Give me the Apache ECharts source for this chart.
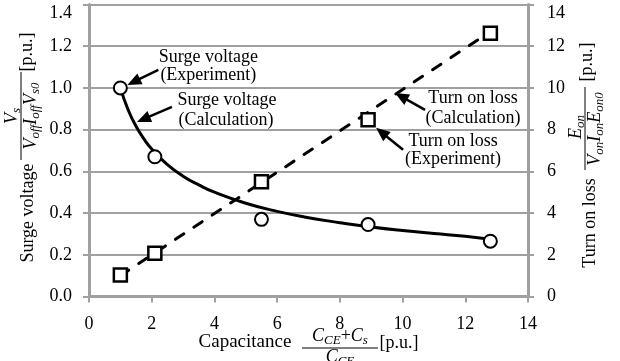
<!DOCTYPE html>
<html><head><meta charset="utf-8">
<script src="https://cdn.jsdelivr.net/npm/echarts@6/dist/echarts.min.js"></script>
<style>html,body{margin:0;padding:0;background:#fff}#c{width:620px;height:361px}</style>
</head><body><div id="c"></div>
<script>
// ---- data ----
const capacitance = [1.0, 2.1, 5.5, 8.9, 12.8];
const surgeExperiment = [1.0, 0.67, 0.37, 0.345, 0.265];
const lossExperiment = [1.03, 2.07, 5.5, 8.47, 12.62];
const surgeCalcX = [1, 1.25, 1.5, 1.75, 2, 2.5, 3, 3.5, 4, 5, 6, 7, 8, 9, 10, 11, 12, 12.8];
const surgeCalcY = [1.0, 0.894, 0.816, 0.756, 0.707, 0.632, 0.577, 0.535, 0.5, 0.447, 0.408, 0.378, 0.354, 0.333, 0.316, 0.302, 0.289, 0.274];
const lossCalcX = [1.0, 12.8];
const lossCalcY = [1.0, 12.7];
const xRange = [0, 14, 2];
const leftRange = [0, 1.4, 0.2];
const rightRange = [0, 14, 2];

const FF = '"Liberation Serif", "Times New Roman", serif';
const GRAY = '#a0a0a0';
const zip = (a, b) => a.map((v, i) => [v, b[i]]);

const chart = echarts.init(document.getElementById('c'), null, {renderer: 'canvas'});
chart.setOption({
  animation: false,
  backgroundColor: '#fff',
  grid: {left: 89, right: 92, top: 4.5, bottom: 64.5},
  xAxis: {
    type: 'value', min: xRange[0], max: xRange[1], interval: xRange[2],
    axisLine: {show: true, lineStyle: {color: GRAY, width: 3}},
    axisTick: {show: true, length: 6, lineStyle: {color: GRAY, width: 2}},
    splitLine: {show: false},
    axisLabel: {fontFamily: FF, fontSize: 18, color: '#000', margin: 19}
  },
  yAxis: [{
    type: 'value', position: 'left', min: leftRange[0], max: leftRange[1], interval: leftRange[2],
    axisLine: {show: true, lineStyle: {color: GRAY, width: 3}},
    axisTick: {show: true, length: 6, lineStyle: {color: GRAY, width: 2}},
    splitLine: {show: true, lineStyle: {color: GRAY, width: 2}},
    axisLabel: {fontFamily: FF, fontSize: 18, color: '#000', margin: 17,
      formatter: v => Math.abs(v - leftRange[1]) < 1e-9 ? '{t|' + v.toFixed(1) + '}' : v.toFixed(1),
      rich: {t: {fontFamily: FF, fontSize: 18, color: '#000', padding: [18, 0, 0, 0]}}}
  }, {
    type: 'value', position: 'right', min: rightRange[0], max: rightRange[1], interval: rightRange[2],
    axisLine: {show: true, lineStyle: {color: GRAY, width: 3}},
    axisTick: {show: true, length: 6, lineStyle: {color: GRAY, width: 2}},
    splitLine: {show: false},
    axisLabel: {fontFamily: FF, fontSize: 18, color: '#000', margin: 19,
      formatter: v => Math.abs(v - rightRange[1]) < 1e-9 ? '{t|' + v + '}' : String(v),
      rich: {t: {fontFamily: FF, fontSize: 18, color: '#000', padding: [18, 0, 0, 0]}}}
  }],
  series: [{
    name: 'Surge voltage (Calculation)', type: 'line', yAxisIndex: 0, smooth: true, showSymbol: false, z: 2,
    data: zip(surgeCalcX, surgeCalcY), lineStyle: {color: '#000', width: 3}
  }, {
    name: 'Turn on loss (Calculation)', type: 'line', yAxisIndex: 1, showSymbol: false, z: 2,
    data: zip(lossCalcX, lossCalcY), lineStyle: {color: '#000', width: 3, type: [10, 12], cap: 'round'}
  }, {
    name: 'Surge voltage (Experiment)', type: 'scatter', yAxisIndex: 0, symbol: 'circle', symbolSize: 13, z: 5,
    data: zip(capacitance, surgeExperiment), itemStyle: {color: '#fff', borderColor: '#000', borderWidth: 2, opacity: 1}
  }, {
    name: 'Turn on loss (Experiment)', type: 'scatter', yAxisIndex: 1, symbol: 'rect', symbolSize: 13, z: 5,
    data: zip(capacitance, lossExperiment), itemStyle: {color: '#fff', borderColor: '#000', borderWidth: 2.5, opacity: 1}
  }]
});

// ---- text helpers ----
const mctx = document.createElement('canvas').getContext('2d');
const fontStr = (fs, it) => (it ? 'italic ' : '') + fs + 'px ' + FF;
function tw(t, fs, it) { mctx.font = fontStr(fs, it); return mctx.measureText(t).width; }
// pieces: [text, fontSize, italic, dy]
function row(pieces, cx, cy) {
  const ws = pieces.map(p => tw(p[0], p[1], p[2]));
  const total = ws.reduce((a, b) => a + b, 0);
  let x = cx - total / 2;
  const els = [];
  pieces.forEach((p, i) => {
    els.push({type: 'text', x: x, y: cy + (p[3] || 0), z: 100,
      style: {text: p[0], font: fontStr(p[1], p[2]), fill: '#000', align: 'left', verticalAlign: 'middle'}});
    x += ws[i];
  });
  return els;
}
function bar(x1, x2, y) {
  return {type: 'line', z: 100, shape: {x1: x1, y1: y, x2: x2, y2: y}, style: {stroke: '#000', lineWidth: 1}};
}
function arrow(tail, tip) {
  const dx = tip[0] - tail[0], dy = tip[1] - tail[1];
  const L = Math.hypot(dx, dy), ux = dx / L, uy = dy / L, nx = -uy, ny = ux;
  const hl = 14, hw = 6;
  const bx = tip[0] - ux * hl, by = tip[1] - uy * hl;
  return [
    {type: 'line', z: 100, shape: {x1: tail[0], y1: tail[1], x2: bx + ux * 2, y2: by + uy * 2}, style: {stroke: '#000', lineWidth: 2.5}},
    {type: 'polygon', z: 100, shape: {points: [tip, [bx + nx * hw, by + ny * hw], [bx - nx * hw, by - ny * hw]]}, style: {fill: '#000'}}
  ];
}
const add = (a, b) => [a[0] + b[0], a[1] + b[1]];

function buildGraphics() {
  const P0 = v => chart.convertToPixel({seriesIndex: 0}, v);
  const P1 = v => chart.convertToPixel({seriesIndex: 1}, v);
  const els = [];
  const FS = 18, SUB = 13;

  // annotations
  const pe = P0([capacitance[0], surgeExperiment[0]]);
  els.push(...arrow(add(pe, [38, -18]), add(pe, [7, -3])));
  els.push(...row([['Surge voltage', FS, false]], pe[0] + 88, pe[1] - 31));
  els.push(...row([['(Experiment)', FS, false]], pe[0] + 88, pe[1] - 13));

  const pc = P0([1.53, 0.837]);
  els.push(...arrow(add(pc, [35, -15]), pc));
  els.push(...row([['Surge voltage', FS, false]], pc[0] + 90, pc[1] - 22));
  els.push(...row([['(Calculation)', FS, false]], pc[0] + 89, pc[1] - 2));

  const lc = P1([9.76, 9.76]);
  els.push(...arrow(add(lc, [30, 17]), lc));
  els.push(...row([['Turn on loss', FS, false]], lc[0] + 78, lc[1] + 5));
  els.push(...row([['(Calculation)', FS, false]], lc[0] + 78, lc[1] + 25));

  const le = P1([capacitance[3], lossExperiment[3]]);
  els.push(...arrow(add(le, [35, 30]), add(le, [8, 8])));
  els.push(...row([['Turn on loss', FS, false]], le[0] + 85, le[1] + 21));
  els.push(...row([['(Experiment)', FS, false]], le[0] + 85, le[1] + 39));

  // x axis title
  els.push(...row([['Capacitance', 19, false]], 245, 342));
  els.push(...row([['C', 18, true], ['CE', SUB, true, 5], ['+', 18, false], ['C', 18, true], ['s', SUB, true, 5]], 340, 336));
  els.push(bar(302, 378, 348));
  els.push(...row([['C', 18, true], ['CE', SUB, true, 5]], 340, 357));
  els.push(...row([['[p.u.]', 18, false]], 399, 343));

  // left axis title (rotated)
  const leftKids = [];
  leftKids.push(...row([['Surge voltage', FS, false]], 84, 0));
  leftKids.push(...row([['V', 18, true], ['s', SUB, true, 5]], 181, -16));
  leftKids.push(bar(137, 225, -7));
  leftKids.push(...row([['V', 18, true], ['off', SUB, true, 5], ['I', 18, true], ['off', SUB, true, 5], ['V', 18, true], ['s0', SUB, true, 5]], 181, 3));
  leftKids.push(...row([['[p.u.]', FS, false]], 245, -1));
  els.push({type: 'group', x: 28, y: 297, rotation: Math.PI / 2, children: leftKids});

  // right axis title (rotated)
  const rightKids = [];
  rightKids.push(...row([['Turn on loss', FS, false]], 74, 0));
  rightKids.push(...row([['E', 18, true], ['on', SUB, true, 5]], 170, -14));
  rightKids.push(bar(127, 210, -5));
  rightKids.push(...row([['V', 18, true], ['on', SUB, true, 5], ['I', 18, true], ['on', SUB, true, 5], ['E', 18, true], ['on0', SUB, true, 5]], 168, 5));
  rightKids.push(...row([['[p.u.]', FS, false]], 235, -3));
  els.push({type: 'group', x: 590, y: 297, rotation: Math.PI / 2, children: rightKids});

  chart.setOption({graphic: {elements: els}});
}
buildGraphics();
</script>
</body></html>
